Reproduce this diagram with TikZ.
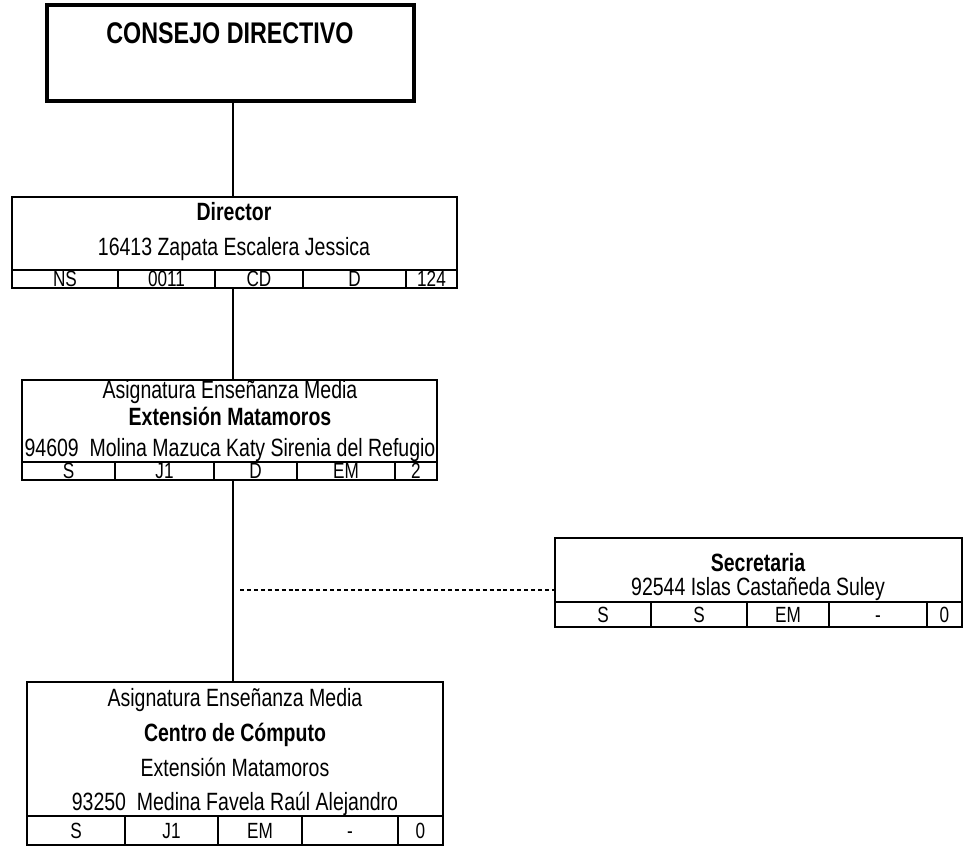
\documentclass[tikz,border=0pt]{standalone}
\usepackage{fontspec}
\setmainfont{Liberation Sans}[FakeStretch=0.78]
\usetikzlibrary{
  fit,
  positioning
}

\begin{document}
\begin{tikzpicture}[
  x=0.75pt, y=-0.75pt,
  caja/.style={draw, line width=1.5pt, inner sep=0pt},
  texto/.style={inner sep=0pt, text height=13.4pt, text depth=0pt,
    font=\fontsize{18.75}{22}\selectfont},
  titulo/.style={texto, font=\fontsize{18.75}{22}\selectfont\bfseries},
  celda/.style={inner sep=0pt, text height=11.8pt, text depth=0pt,
    font=\fontsize{16.5}{19}\selectfont},
  rejilla/.style={line width=1.5pt},
  enlace/.style={line width=1pt}
]
\useasboundingbox (0,0) rectangle (965,846);

%--------------------
% Consejo
%--------------------
\node[caja, line width=3.5pt, fit={(47,5) (414,101)}] (consejo) {};
\node[titulo, text height=16pt, font=\fontsize{22.4}{26}\selectfont\bfseries]
  (consejo-t) at (230,33) {CONSEJO DIRECTIVO};

% eje vertical del organigrama
\coordinate (eje) at (233,0);

%--------------------
% Director
%--------------------
\node[caja, fit={(12,197) (457,288)}] (director) {};
\node[titulo] (director-t) at (234,212) {Director};
\node[texto] (director-n) at (234,247) {16413 Zapata Escalera Jessica};
\draw[rejilla] (12,270) -- (457,270);
\foreach \x in {118,215,303,406}
  \draw[rejilla] (\x,270) -- (\x,288);
\foreach \x/\t [count=\i] in {65/NS,166.5/0011,259/CD,354.5/D,431.5/124}
  \node[celda] (director-c\i) at (\x,279) {\t};

%--------------------
% Extension Matamoros
%--------------------
\node[caja, fit={(22,380) (437,480)}] (extension) {};
\node[texto] (extension-a) at (230,390) {Asignatura Enseñanza Media};
\node[titulo] (extension-t) at (230,417) {Extensión Matamoros};
\node[texto] (extension-n) at (230,448)
  {94609\ \ Molina Mazuca Katy Sirenia del Refugio};
\draw[rejilla] (22,462) -- (437,462);
\foreach \x in {115,214,297,395}
  \draw[rejilla] (\x,462) -- (\x,480);
\foreach \x/\t [count=\i] in {68.5/S,164.5/J1,255.5/D,346/EM,416/2}
  \node[celda] (extension-c\i) at (\x,471) {\t};

%--------------------
% Secretaria
%--------------------
\node[caja, fit={(555,538) (962,627)}] (secretaria) {};
\node[titulo] (secretaria-t) at (758,563) {Secretaria};
\node[texto] (secretaria-n) at (758,587) {92544 Islas Castañeda Suley};
\draw[rejilla] (555,602) -- (962,602);
\foreach \x in {651,747,829,927}
  \draw[rejilla] (\x,602) -- (\x,627);
\foreach \x/\t [count=\i] in {603/S,699/S,788/EM,878/-,944.5/0}
  \node[celda] (secretaria-c\i) at (\x,614.5) {\t};

%--------------------
% Centro de Computo
%--------------------
\node[caja, fit={(27,682) (443,845)}] (computo) {};
\node[texto] (computo-a) at (235,698) {Asignatura Enseñanza Media};
\node[titulo] (computo-t) at (235,733) {Centro de Cómputo};
\node[texto] (computo-e) at (235,768) {Extensión Matamoros};
\node[texto] (computo-n) at (235,802) {93250\ \ Medina Favela Raúl Alejandro};
\draw[rejilla] (27,816) -- (443,816);
\foreach \x in {125,218,302,398}
  \draw[rejilla] (\x,816) -- (\x,845);
\foreach \x/\t [count=\i] in {76/S,171.5/J1,260/EM,350/-,420.5/0}
  \node[celda] (computo-c\i) at (\x,830.5) {\t};

%--------------------
% Lineas de mando
%--------------------
\draw[enlace] (consejo.south -| eje) -- (director.north -| eje);
\draw[enlace] (director.south -| eje) -- (extension.north -| eje);
\draw[enlace] (extension.south -| eje) -- (computo.north -| eje);

% apoyo (linea punteada)
\coordinate (apoyo) at (240,590);
\draw[enlace, dash pattern={on 3pt off 2.2pt}] (apoyo) -- (apoyo -| secretaria.west);

\end{tikzpicture}
\end{document}
